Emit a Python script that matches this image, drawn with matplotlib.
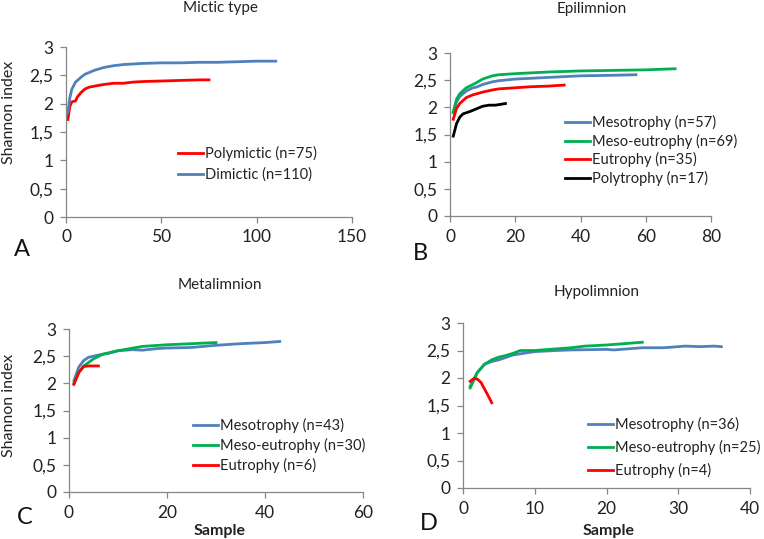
import matplotlib
matplotlib.use("Agg")
import matplotlib.pyplot as plt
from matplotlib.ticker import FuncFormatter

plt.rcParams['font.family'] = ['Lato', 'DejaVu Sans']

# ---- Panel A: Mictic type ----
a_poly_x = [1, 2, 3, 4, 5, 6, 8, 10, 12, 15, 20, 25, 30, 35, 40, 50, 60, 70, 75]
a_poly_y = [1.72, 1.95, 2.03, 2.04, 2.05, 2.12, 2.20, 2.26, 2.29, 2.31, 2.34, 2.36, 2.36, 2.38, 2.39, 2.40, 2.41, 2.42, 2.42]
a_dim_x = [1, 2, 3, 5, 8, 10, 15, 20, 25, 30, 40, 50, 60, 70, 80, 90, 100, 110]
a_dim_y = [1.85, 2.10, 2.25, 2.38, 2.47, 2.52, 2.59, 2.64, 2.67, 2.69, 2.71, 2.72, 2.72, 2.73, 2.73, 2.74, 2.75, 2.75]

# ---- Panel B: Epilimnion ----
b_meso_x = [1, 2, 3, 5, 7, 8, 10, 13, 15, 20, 30, 40, 50, 57]
b_meso_y = [1.90, 2.10, 2.20, 2.30, 2.36, 2.37, 2.42, 2.47, 2.49, 2.52, 2.55, 2.58, 2.59, 2.60]
b_me_x = [1, 2, 3, 5, 8, 10, 13, 15, 20, 30, 40, 50, 60, 69]
b_me_y = [1.92, 2.15, 2.25, 2.36, 2.45, 2.52, 2.58, 2.60, 2.62, 2.65, 2.67, 2.68, 2.69, 2.71]
b_eu_x = [1, 2, 3, 5, 7, 10, 13, 15, 20, 25, 30, 35]
b_eu_y = [1.78, 1.98, 2.07, 2.18, 2.23, 2.28, 2.32, 2.34, 2.36, 2.38, 2.39, 2.41]
b_poly_x = [1, 2, 3, 4, 6, 8, 10, 12, 14, 16, 17]
b_poly_y = [1.47, 1.70, 1.82, 1.88, 1.92, 1.97, 2.02, 2.04, 2.04, 2.06, 2.07]

# ---- Panel C: Metalimnion ----
c_meso_x = [1, 2, 3, 4, 5, 6, 8, 10, 13, 15, 18, 20, 25, 30, 35, 40, 43]
c_meso_y = [2.05, 2.30, 2.42, 2.48, 2.50, 2.52, 2.55, 2.60, 2.62, 2.61, 2.64, 2.65, 2.66, 2.70, 2.73, 2.75, 2.77]
c_me_x = [1, 2, 3, 5, 7, 10, 15, 20, 25, 30]
c_me_y = [2.00, 2.20, 2.32, 2.45, 2.54, 2.60, 2.68, 2.71, 2.73, 2.75]
c_eu_x = [1, 2, 3, 4, 5, 6]
c_eu_y = [1.98, 2.20, 2.31, 2.32, 2.32, 2.32]

# ---- Panel D: Hypolimnion ----
d_meso_x = [1, 2, 3, 4, 5, 7, 10, 13, 15, 20, 21, 25, 28, 31, 33, 35, 36]
d_meso_y = [1.85, 2.10, 2.25, 2.30, 2.33, 2.42, 2.48, 2.50, 2.51, 2.52, 2.51, 2.55, 2.55, 2.58, 2.57, 2.58, 2.57]
d_me_x = [1, 2, 3, 4, 5, 6, 7, 8, 10, 12, 15, 17, 20, 25]
d_me_y = [1.82, 2.10, 2.25, 2.33, 2.38, 2.41, 2.45, 2.50, 2.50, 2.52, 2.55, 2.58, 2.60, 2.65]
d_eu_x = [1, 1.5, 2, 2.5, 3, 3.5, 4]
d_eu_y = [1.94, 1.99, 1.98, 1.92, 1.80, 1.68, 1.55]

titles = ["Mictic type", "Epilimnion", "Metalimnion", "Hypolimnion"]
letters = ["A", "B", "C", "D"]
yticks = [0, 0.5, 1, 1.5, 2, 2.5, 3]

BLUE = "#4F81BD"
GREEN = "#00B050"
RED = "#FF0000"
BLACK = "#000000"
AXC = "#868686"
TXT = "#222222"

W, H = 764, 539
fig = plt.figure(figsize=(W / 100, H / 100), dpi=100)


def make_ax(l, r, t, b):
    return fig.add_axes([l / W, 1 - b / H, (r - l) / W, (b - t) / H])


def style(ax, xmax, xstep):
    ax.set_xlim(0, xmax)
    ax.set_ylim(0, 3)
    ax.set_xticks(list(range(0, xmax + 1, xstep)))
    ax.set_yticks(yticks)
    ax.yaxis.set_major_formatter(FuncFormatter(lambda v, p: ("%g" % v).replace(".", ",")))
    for s in ["top", "right"]:
        ax.spines[s].set_visible(False)
    for s in ["left", "bottom"]:
        ax.spines[s].set_color(AXC)
        ax.spines[s].set_linewidth(0.9)
    ax.tick_params(axis="both", colors=AXC, labelcolor=TXT, labelsize=12.5, length=4, width=0.9, direction="out")
    ax.tick_params(axis="y", pad=5)
    ax.tick_params(axis="x", pad=5)


lw = 2.0

axA = make_ax(66, 352, 47, 217)
axA.plot(a_poly_x, a_poly_y, color=RED, lw=lw, label="Polymictic (n=75)")
axA.plot(a_dim_x, a_dim_y, color=BLUE, lw=lw, label="Dimictic (n=110)")
style(axA, 150, 50)

axB = make_ax(450, 711, 53, 216)
axB.plot(b_meso_x, b_meso_y, color=BLUE, lw=lw, label="Mesotrophy (n=57)")
axB.plot(b_me_x, b_me_y, color=GREEN, lw=lw, label="Meso-eutrophy (n=69)")
axB.plot(b_eu_x, b_eu_y, color=RED, lw=lw, label="Eutrophy (n=35)")
axB.plot(b_poly_x, b_poly_y, color=BLACK, lw=lw, label="Polytrophy (n=17)")
style(axB, 80, 20)

axC = make_ax(69, 363, 329, 492)
axC.plot(c_meso_x, c_meso_y, color=BLUE, lw=lw, label="Mesotrophy (n=43)")
axC.plot(c_me_x, c_me_y, color=GREEN, lw=lw, label="Meso-eutrophy (n=30)")
axC.plot(c_eu_x, c_eu_y, color=RED, lw=lw, label="Eutrophy (n=6)")
style(axC, 60, 20)

axD = make_ax(463, 750, 323, 488)
axD.plot(d_meso_x, d_meso_y, color=BLUE, lw=lw, label="Mesotrophy (n=36)")
axD.plot(d_me_x, d_me_y, color=GREEN, lw=lw, label="Meso-eutrophy (n=25)")
axD.plot(d_eu_x, d_eu_y, color=RED, lw=lw, label="Eutrophy (n=4)")
style(axD, 40, 10)


def legend(ax, x_px, y_px, spacing):
    # x_px: left of handle, y_px: top of first row (figure pixels)
    ax.legend(loc="upper left", bbox_to_anchor=(x_px / W, 1 - y_px / H), bbox_transform=fig.transFigure,
              frameon=False, fontsize=10.5, handlelength=1.7, handletextpad=0.15,
              labelspacing=spacing, borderpad=0, borderaxespad=0, labelcolor=TXT)


legend(axA, 178, 146, 0.45)
legend(axB, 565, 115, 0.25)
legend(axC, 193, 418, 0.35)
legend(axD, 588, 417, 0.55)

for (x, y, s) in [(220, 8, titles[0]), (592, 9, titles[1]), (220, 285, titles[2]), (597, 292, titles[3])]:
    fig.text(x / W, 1 - y / H, s, ha="center", va="center", fontsize=11, color=TXT)

for (x, y, s) in [(22, 250, letters[0]), (420, 253, letters[1]), (25, 518, letters[2]), (429, 523, letters[3])]:
    fig.text(x / W, 1 - y / H, s, ha="center", va="center", fontsize=17, color="#111111")

for (x, y) in [(9, 112), (9, 405)]:
    fig.text(x / W, 1 - y / H, "Shannon index", ha="center", va="center", rotation=90, fontsize=11.5, color=TXT)

for (x, y) in [(220, 531), (609, 531)]:
    fig.text(x / W, 1 - y / H, "Sample", ha="center", va="center", fontsize=11.5, fontweight="bold", color=TXT)

fig.savefig("out.png", dpi=100)
